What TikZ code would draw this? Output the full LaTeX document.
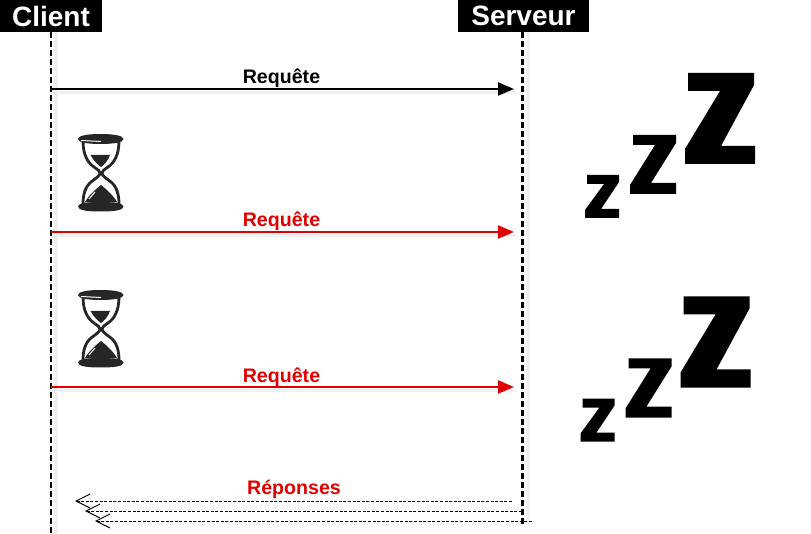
\documentclass[tikz,border=0pt]{standalone}
\usepackage{fontspec}
\setmainfont{Liberation Sans}
\usetikzlibrary{arrows.meta}
\definecolor{reqred}{RGB}{224,0,0}
\definecolor{soft}{RGB}{240,240,240}
\tikzset{
  header/.style={fill=black,text=white,font=\fontsize{28}{30}\bfseries\selectfont,inner sep=0pt,minimum height=32pt,text depth=0pt},
  lifeline/.style={black,line width=2.1pt,dash pattern=on 6pt off 3pt},
  lifeshadow/.style={soft,line width=4pt},
  req/.style={line width=2pt,-{Triangle[length=16pt,width=13pt]}},
  reqshadow/.style={soft,line width=3pt},
  reqlabel/.style={font=\fontsize{19.6}{22}\bfseries\selectfont,inner sep=0pt},
  reply/.style={black,line width=0.9pt,dash pattern=on 3pt off 1.6pt,-{Straight Barb[length=14pt,width=14pt,line width=0.9pt]}},
  glass/.style={draw=black!85,line width=2.8pt},
  ink/.style={fill=black!85},
  zz/.style={fill=black}
}
\newcommand{\hourglass}[1]{%
\begin{scope}[shift={(0,#1)}]
  \path[glass,fill=white] (83,141) .. controls (83,155) and (88,163) .. (94,167) .. controls (98,170) and (100,171) .. (100,173)
     .. controls (100,176) and (96,178) .. (91,182) .. controls (85,187) and (83,195) .. (83,204) -- (119,204)
     .. controls (119,195) and (117,187) .. (111,182) .. controls (106,178) and (102,176) .. (102,173)
     .. controls (102,171) and (104,170) .. (108,167) .. controls (114,163) and (119,155) .. (119,141) -- cycle;
  \fill[ink] (90.5,155) -- (110,155) .. controls (108,161) and (104,165) .. (101,167) .. controls (98,165) and (93,160) .. (90.5,155) -- cycle;
  \fill[ink] (101,185) .. controls (96,189) and (89,195) .. (85,202) -- (117,202) .. controls (113,195) and (106,189) .. (101,185) -- cycle;
  \fill[ink] (78,139) .. controls (78,135.5) and (88,134) .. (100.5,134) .. controls (113,134) and (123.5,135.5) .. (123.5,139)
     .. controls (123.5,142.5) and (113,144) .. (100.5,144) .. controls (88,144) and (78,142.5) .. (78,139) -- cycle;
  \fill[ink] (78,206.5) .. controls (78,203) and (88,202) .. (100.5,202) .. controls (113,202) and (123.5,203) .. (123.5,206.5)
     .. controls (123.5,210.5) and (113,211.5) .. (100.5,211.5) .. controls (88,211.5) and (78,210.5) .. (78,206.5) -- cycle;
  \draw[white,line width=1pt] (81,140.5) -- (101,141.5);
  \draw[white,line width=1pt] (89,199) -- (95,192);
\end{scope}}
\newcommand{\sleepz}[2]{%
\begin{scope}[shift={(#1,#2)}]
  \fill[zz] (688,73) -- (754,73) -- (754,85) -- (721,146) -- (755,146) -- (755,164) -- (685,164) -- (685,149) -- (720,91) -- (688,91) -- cycle;
  \fill[zz] (633,135) -- (676,135) -- (676,143) -- (651,183) -- (676,183) -- (676,194) -- (630,194) -- (630,185) -- (655,145) -- (633,145) -- cycle;
  \fill[zz] (587,175) -- (619,175) -- (619,182) -- (601,209) -- (619,209) -- (619,218) -- (585,218) -- (585,210) -- (604,184) -- (587,184) -- cycle;
\end{scope}}
\begin{document}
\begin{tikzpicture}[x=1pt,y=-1pt]
\useasboundingbox (0,0) rectangle (811,534);
% lifeline ends and free arrow ends
\coordinate (cbot) at (51,534);
\coordinate (sbot) at (522.5,524);
\coordinate (a1s) at (51,89);  \coordinate (a1e) at (514,89);
\coordinate (a2s) at (51,232); \coordinate (a2e) at (514,232);
\coordinate (a3s) at (51,387); \coordinate (a3e) at (514,387);
\coordinate (r1s) at (512,501); \coordinate (r1e) at (75,501);
\coordinate (r2s) at (522,511); \coordinate (r2e) at (85,511);
\coordinate (r3s) at (532,521); \coordinate (r3e) at (95,521);
% headers
\node[header,minimum width=102pt] (client) at (51,16) {Client};
\node[header,minimum width=131pt] (serveur) at (523.5,16) {Serveur};
% soft shadows
\draw[lifeshadow] ([xshift=5pt]client.south -| cbot) -- ([xshift=5pt]cbot);
\draw[lifeshadow] ([xshift=5pt]serveur.south -| sbot) -- ([xshift=5pt]sbot);
\foreach \s/\e in {a1s/a1e,a2s/a2e,a3s/a3e}
  \draw[reqshadow] ([yshift=-3.5pt]\s) -- ([yshift=-3.5pt,xshift=2pt]\e);
% lifelines
\draw[lifeline] (client.south -| cbot) -- (cbot);
\draw[lifeline] (serveur.south -| sbot) -- (sbot);
% requests
\draw[req,black] (a1s) -- (a1e);
\draw[req,reqred] (a2s) -- (a2e);
\draw[req,reqred] (a3s) -- (a3e);
\node[reqlabel,text=black] (l1) at (281.5,78) {Requête};
\node[reqlabel,text=reqred] (l2) at (281.5,221) {Requête};
\node[reqlabel,text=reqred] (l3) at (281.5,377) {Requête};
\node[reqlabel,text=reqred] (l4) at (294,489) {Réponses};
% replies
\draw[reply] (r1s) -- (r1e);
\draw[reply] (r2s) -- (r2e);
\draw[reply] (r3s) -- (r3e);
% hourglasses
\hourglass{0}
\hourglass{156}
% sleep marks
\sleepz{0}{0}
\sleepz{-4.5}{223.5}
\end{tikzpicture}
\end{document}
